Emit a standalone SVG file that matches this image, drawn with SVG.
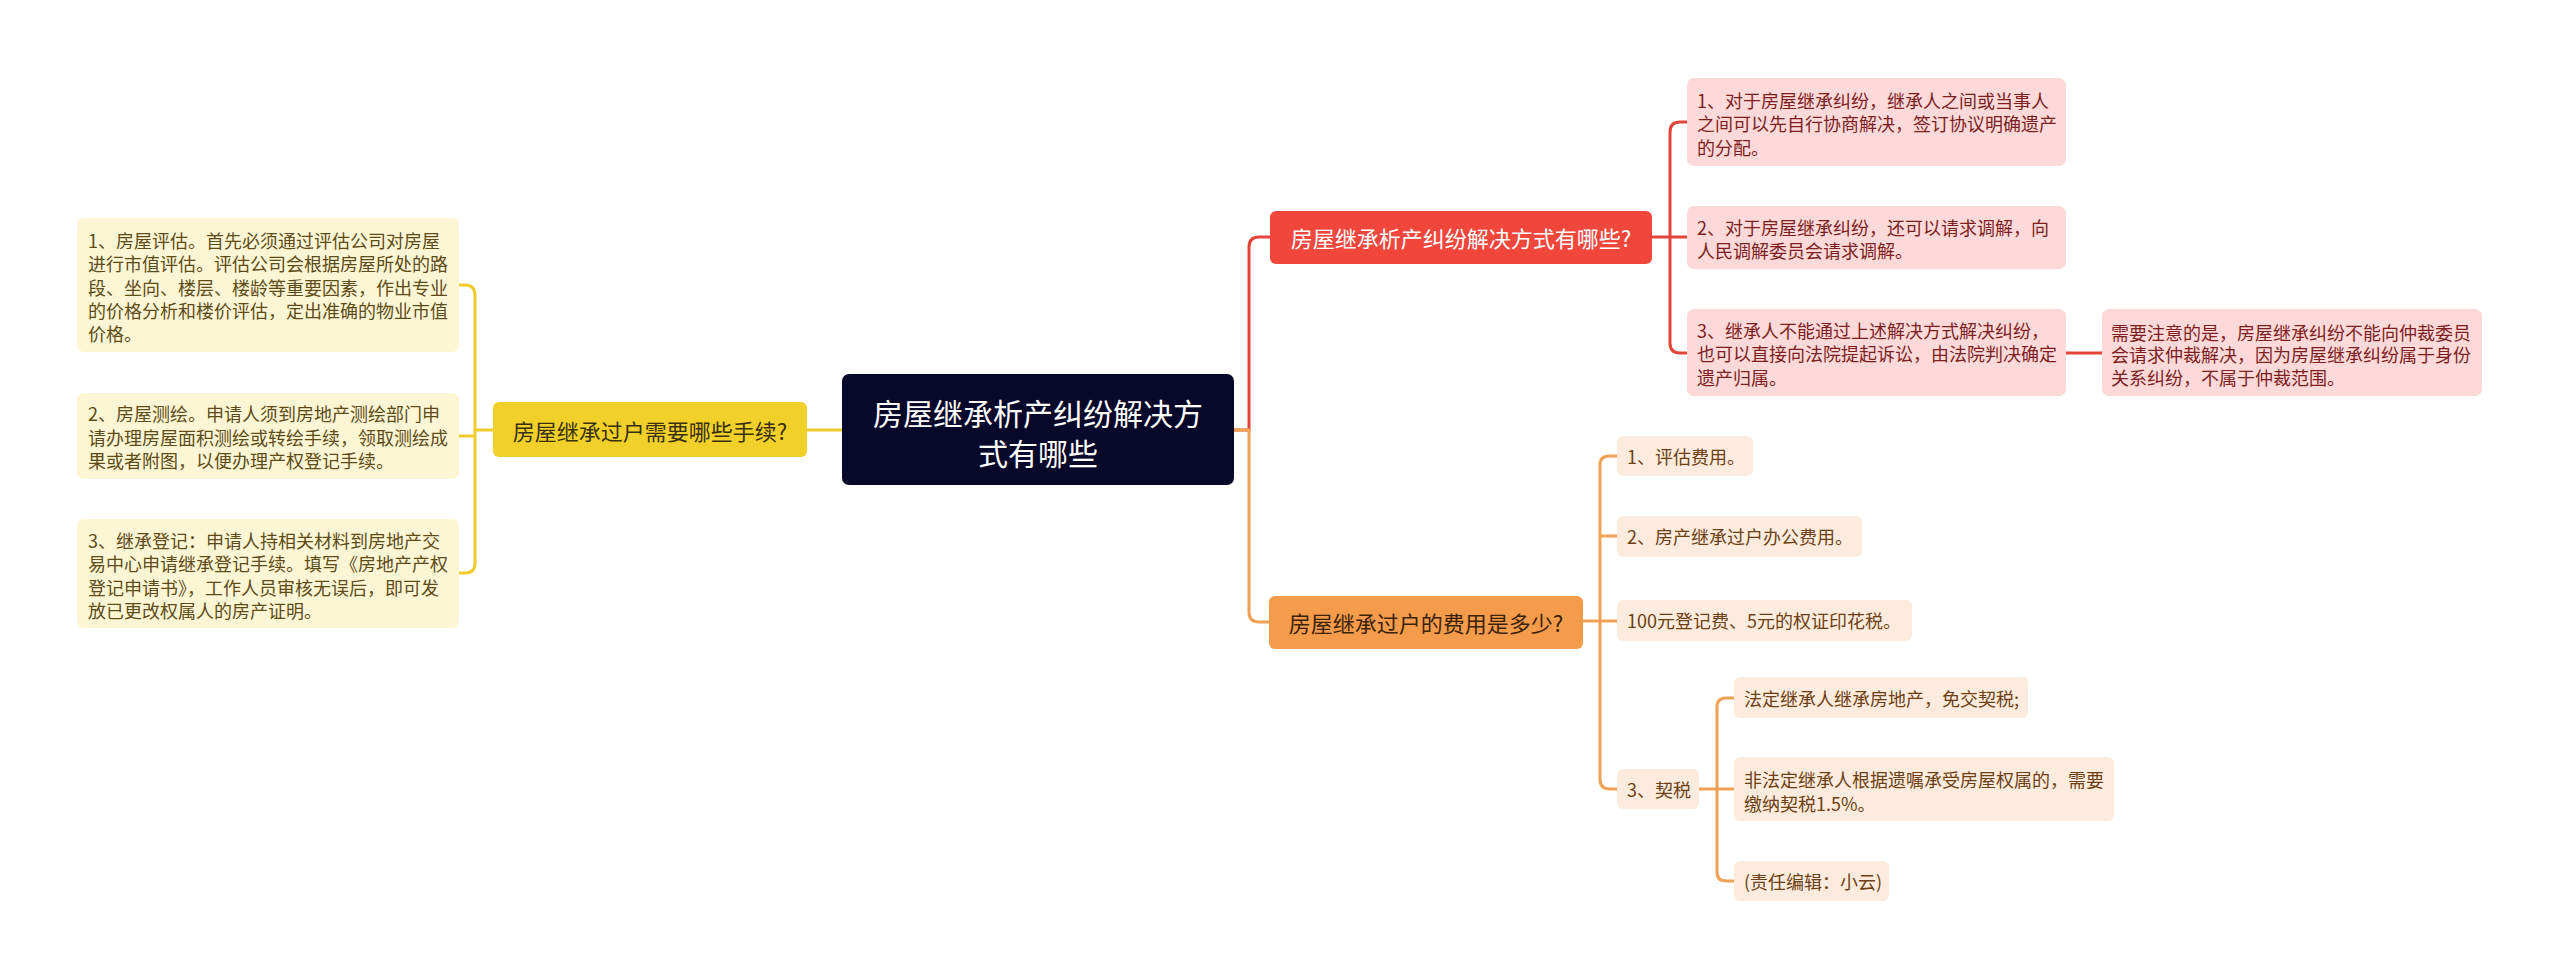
<svg xmlns="http://www.w3.org/2000/svg" width="2560" height="980" viewBox="0 0 2560 980">
<style>
text{font-family:"Noto Sans CJK SC","Noto Sans",sans-serif;dominant-baseline:central}
.c{fill:#ffffff;font-size:30px;text-anchor:middle}
.t1{font-size:22px;text-anchor:middle}
.lf{font-size:18px}
.yl{fill:#fdf6d4}.ylt{fill:#5e4b17}
.pk{fill:#fdd9d9}.pkt{fill:#7e1e1e}
.or{fill:#fdecdd}.ort{fill:#6e3f14}
.ly{fill:none;stroke:#f0cc2c;stroke-width:3}
.lr{fill:none;stroke:#e5443a;stroke-width:3}
.lo{fill:none;stroke:#efa256;stroke-width:3}
</style>
<rect width="2560" height="980" fill="#ffffff"/>
<g id="connectors">
<path class="ly" d="M842 430 H807"/>
<path class="ly" d="M493 430 H475 M459 285 H465 Q475 285 475 295 V563 Q475 573 465 573 H459 M459 436 H475"/>
<path class="lr" d="M1234 430 H1249 V247 Q1249 237 1259 237 H1270"/>
<path class="lo" d="M1234 430 H1249 V612 Q1249 622 1259 622 H1269"/>
<path class="lr" d="M1652 237 H1687 M1670 237 V132 Q1670 122 1680 122 H1687 M1670 237 V343 Q1670 353 1680 353 H1687"/>
<path class="lr" d="M2066 353 H2102"/>
<path class="lo" d="M1583 621 H1617 M1600 621 V465 Q1600 456 1609 456 H1617 M1600 536 H1617 M1600 621 V779 Q1600 789 1610 789 H1617"/>
<path class="lo" d="M1699 789 H1734 M1717 789 V707 Q1717 698 1726 698 H1734 M1717 789 V872 Q1717 881 1726 881 H1734"/>
</g>
<g id="center">
<rect x="842" y="374" width="392" height="111" rx="7" fill="#08082b"/>
<text class="c" x="1038" y="412">房屋继承析产纠纷解决方</text>
<text class="c" x="1038" y="452">式有哪些</text>
</g>
<g id="n-left">
<rect x="493" y="402" width="314" height="55" rx="6" fill="#f2d02a"/>
<text class="t1" x="650" y="430" fill="#3a3010">房屋继承过户需要哪些手续?</text>
</g>
<g id="l1">
<rect class="yl" x="77" y="218" width="382" height="134" rx="7"/>
<text class="lf ylt" x="88" y="240">1、房屋评估。首先必须通过评估公司对房屋</text>
<text class="lf ylt" x="88" y="263">进行市值评估。评估公司会根据房屋所处的路</text>
<text class="lf ylt" x="88" y="287">段、坐向、楼层、楼龄等重要因素，作出专业</text>
<text class="lf ylt" x="88" y="310">的价格分析和楼价评估，定出准确的物业市值</text>
<text class="lf ylt" x="88" y="333">价格。</text>
</g>
<g id="l2">
<rect class="yl" x="77" y="393" width="382" height="86" rx="7"/>
<text class="lf ylt" x="88" y="413">2、房屋测绘。申请人须到房地产测绘部门申</text>
<text class="lf ylt" x="88" y="437">请办理房屋面积测绘或转绘手续，领取测绘成</text>
<text class="lf ylt" x="88" y="460">果或者附图，以便办理产权登记手续。</text>
</g>
<g id="l3">
<rect class="yl" x="77" y="519" width="382" height="109" rx="7"/>
<text class="lf ylt" x="88" y="540">3、继承登记：申请人持相关材料到房地产交</text>
<text class="lf ylt" x="88" y="563">易中心申请继承登记手续。填写《房地产产权</text>
<text class="lf ylt" x="88" y="587">登记申请书》，工作人员审核无误后，即可发</text>
<text class="lf ylt" x="88" y="610">放已更改权属人的房产证明。</text>
</g>
<g id="n-red">
<rect x="1270" y="211" width="382" height="53" rx="6" fill="#f0463c"/>
<text class="t1" x="1461" y="237" fill="#ffffff">房屋继承析产纠纷解决方式有哪些?</text>
</g>
<g id="r1">
<rect class="pk" x="1687" y="78" width="379" height="88" rx="7"/>
<text class="lf pkt" x="1697" y="100">1、对于房屋继承纠纷，继承人之间或当事人</text>
<text class="lf pkt" x="1697" y="123">之间可以先自行协商解决，签订协议明确遗产</text>
<text class="lf pkt" x="1697" y="147">的分配。</text>
</g>
<g id="r2">
<rect class="pk" x="1687" y="206" width="379" height="63" rx="7"/>
<text class="lf pkt" x="1697" y="227">2、对于房屋继承纠纷，还可以请求调解，向</text>
<text class="lf pkt" x="1697" y="250">人民调解委员会请求调解。</text>
</g>
<g id="r3">
<rect class="pk" x="1687" y="309" width="379" height="87" rx="7"/>
<text class="lf pkt" x="1697" y="330">3、继承人不能通过上述解决方式解决纠纷，</text>
<text class="lf pkt" x="1697" y="353">也可以直接向法院提起诉讼，由法院判决确定</text>
<text class="lf pkt" x="1697" y="377">遗产归属。</text>
</g>
<g id="r3-note">
<rect class="pk" x="2102" y="309" width="380" height="87" rx="7"/>
<text class="lf pkt" x="2111" y="332">需要注意的是，房屋继承纠纷不能向仲裁委员</text>
<text class="lf pkt" x="2111" y="354">会请求仲裁解决，因为房屋继承纠纷属于身份</text>
<text class="lf pkt" x="2111" y="377">关系纠纷，不属于仲裁范围。</text>
</g>
<g id="n-orange">
<rect x="1269" y="596" width="314" height="53" rx="6" fill="#f49c4b"/>
<text class="t1" x="1426" y="622" fill="#3d2208">房屋继承过户的费用是多少?</text>
</g>
<g id="o1">
<rect class="or" x="1617" y="436" width="136" height="40" rx="6"/>
<text class="lf ort" x="1627" y="456">1、评估费用。</text>
</g>
<g id="o2">
<rect class="or" x="1617" y="516" width="245" height="41" rx="6"/>
<text class="lf ort" x="1627" y="536">2、房产继承过户办公费用。</text>
</g>
<g id="o3">
<rect class="or" x="1617" y="600" width="295" height="41" rx="6"/>
<text class="lf ort" x="1627" y="620">100元登记费、5元的权证印花税。</text>
</g>
<g id="o4">
<rect class="or" x="1617" y="769" width="82" height="40" rx="6"/>
<text class="lf ort" x="1627" y="789">3、契税</text>
</g>
<g id="s1">
<rect class="or" x="1734" y="677" width="294" height="41" rx="6"/>
<text class="lf ort" x="1744" y="698">法定继承人继承房地产，免交契税;</text>
</g>
<g id="s2">
<rect class="or" x="1734" y="757" width="380" height="64" rx="6"/>
<text class="lf ort" x="1744" y="779">非法定继承人根据遗嘱承受房屋权属的，需要</text>
<text class="lf ort" x="1744" y="803">缴纳契税1.5%。</text>
</g>
<g id="s3">
<rect class="or" x="1734" y="861" width="155" height="40" rx="6"/>
<text class="lf ort" x="1744" y="881">(责任编辑：小云)</text>
</g>
</svg>
